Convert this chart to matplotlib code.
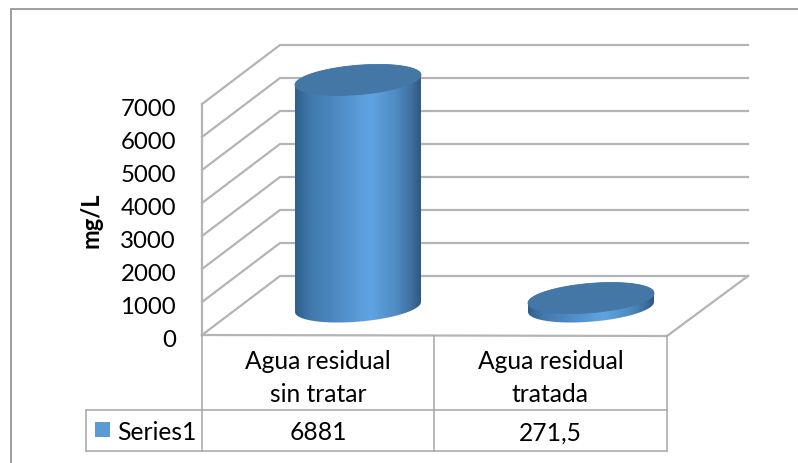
import matplotlib
matplotlib.use('Agg')
import matplotlib.pyplot as plt
from matplotlib.patches import PathPatch, Rectangle
from matplotlib.path import Path
from matplotlib.colors import LinearSegmentedColormap
import numpy as np

plt.rcParams['font.family'] = ['Lato', 'DejaVu Sans']

CATEGORIES = ['Agua residual\nsin tratar', 'Agua residual\ntratada']
VALUES = [6881, 271.5]
SERIES_NAME = 'Series1'
VALUE_LABELS = ['6881', '271,5']
Y_TICKS = [0, 1000, 2000, 3000, 4000, 5000, 6000, 7000]
Y_LABEL = 'mg/L'

GRID = '#b4b4b4'
TABLE = '#a6a6a6'
FRAME = '#969696'
TEXT = '#000000'
TOP = '#4477a5'
SWATCH = '#5b9bd5'
side_cmap = LinearSegmentedColormap.from_list('side', [
    (0.0, '#2f5f8c'), (0.12, '#4179ad'), (0.35, '#4f8dc5'),
    (0.60, '#5fa4e2'), (0.80, '#4f8cc4'), (0.93, '#3f6f9e'), (1.0, '#2f5680')])

# pixel geometry of the fake 3d box
PX_PER_UNIT = 33 / 1000
FRONT_X, BACK_X, RIGHT_X = 202, 280, 748
FLOOR_FRONT, FLOOR_BACK = 336, 277
FLOOR_RIGHT_X = 667
COL_X = [358, 591]
COL_A = 63
COL_B = 14.7
COL_TILT = 5 / 63
COL_BASE = 308
TABLE_LEFT, TABLE_MID, TABLE_TOP, TABLE_BOT = 86, 434, 410.5, 452


def val_y(base, v):
    return base - v * PX_PER_UNIT


def ellipse(cx, cy, t):
    dx = COL_A * np.cos(t)
    return cx + dx, cy - COL_TILT * dx + COL_B * np.sin(t)


fig = plt.figure(figsize=(7.98, 4.64), dpi=100)
ax = fig.add_axes([0, 0, 1, 1])
ax.set_xlim(0, 798)
ax.set_ylim(464, 0)
ax.axis('off')

# outer chart frame, only top and left are inside the picture
ax.plot([10.5, 10.5, 798], [464, 9.5, 9.5], color=FRAME, lw=1.3, solid_joinstyle='miter')

# back wall and side wall grid
for v in Y_TICKS:
    yf = val_y(FLOOR_FRONT, v)
    yb = val_y(FLOOR_BACK, v)
    ax.plot([FRONT_X, BACK_X, RIGHT_X], [yf, yb, yb], color=GRID, lw=1.6,
            solid_joinstyle='miter', zorder=1)
    ax.text(176, yf + 2.5, str(v), fontsize=17.3, color=TEXT, ha='right', va='center_baseline')

ax.plot([FRONT_X, FRONT_X], [val_y(FLOOR_FRONT, 7000), FLOOR_FRONT], color=GRID, lw=1.6, zorder=1)
ax.plot([FRONT_X, FLOOR_RIGHT_X, RIGHT_X], [FLOOR_FRONT, FLOOR_FRONT + 1, FLOOR_BACK],
        color=GRID, lw=1.6, zorder=1)

ax.text(91, 220, Y_LABEL, fontsize=17, fontweight='bold', color=TEXT, rotation=90,
        ha='center', va='center')

# cylinders
for cx, v in zip(COL_X, VALUES):
    top_y = val_y(COL_BASE, v)
    t_bot = np.linspace(np.pi, 0, 80)
    bx, by = ellipse(cx, COL_BASE, t_bot)
    t_top = np.linspace(0, np.pi, 80)
    tx, ty = ellipse(cx, top_y, -t_top)
    verts = np.column_stack([np.r_[bx, tx], np.r_[by, ty]])
    verts = np.vstack([verts, verts[0]])
    side = PathPatch(Path(verts), fc='none', ec='none', zorder=3)
    ax.add_patch(side)
    grad = np.linspace(0, 1, 256).reshape(1, -1)
    im = ax.imshow(grad, cmap=side_cmap, extent=[cx - COL_A, cx + COL_A, COL_BASE + 20, top_y - 20],
                   aspect='auto', zorder=3, interpolation='bilinear')
    im.set_clip_path(side)
    t = np.linspace(0, 2 * np.pi, 160)
    ex, ey = ellipse(cx, top_y, t)
    ax.fill(ex, ey, color=TOP, lw=0.6, zorder=4)
ax.set_xlim(0, 798)
ax.set_ylim(464, 0)

# data table
for x, y0 in [(FRONT_X, FLOOR_FRONT), (TABLE_MID, FLOOR_FRONT + 1), (FLOOR_RIGHT_X, FLOOR_FRONT + 1)]:
    ax.plot([x, x], [y0, TABLE_BOT], color=TABLE, lw=1.1, zorder=2)
ax.plot([TABLE_LEFT, TABLE_LEFT], [TABLE_TOP, TABLE_BOT], color=TABLE, lw=1.1, zorder=2)
ax.plot([TABLE_LEFT, FLOOR_RIGHT_X], [TABLE_TOP, TABLE_TOP], color=TABLE, lw=1.1, zorder=2)
ax.plot([TABLE_LEFT, FLOOR_RIGHT_X], [TABLE_BOT, TABLE_BOT], color=TABLE, lw=1.1, zorder=2)

centers = [(FRONT_X + TABLE_MID) / 2, (TABLE_MID + FLOOR_RIGHT_X) / 2]
for c, cat, lab in zip(centers, CATEGORIES, VALUE_LABELS):
    ax.text(c, 378, cat, fontsize=17.7, color=TEXT, ha='center', va='center', linespacing=1.52)
    ax.text(c, 433, lab, fontsize=17.7, color=TEXT, ha='center', va='center')

ax.add_patch(Rectangle((95, 423), 15, 15, fc=SWATCH, ec='none'))
ax.text(117, 433, SERIES_NAME, fontsize=17.7, color=TEXT, ha='left', va='center')

fig.savefig('out.png', dpi=100)
plt.close()
